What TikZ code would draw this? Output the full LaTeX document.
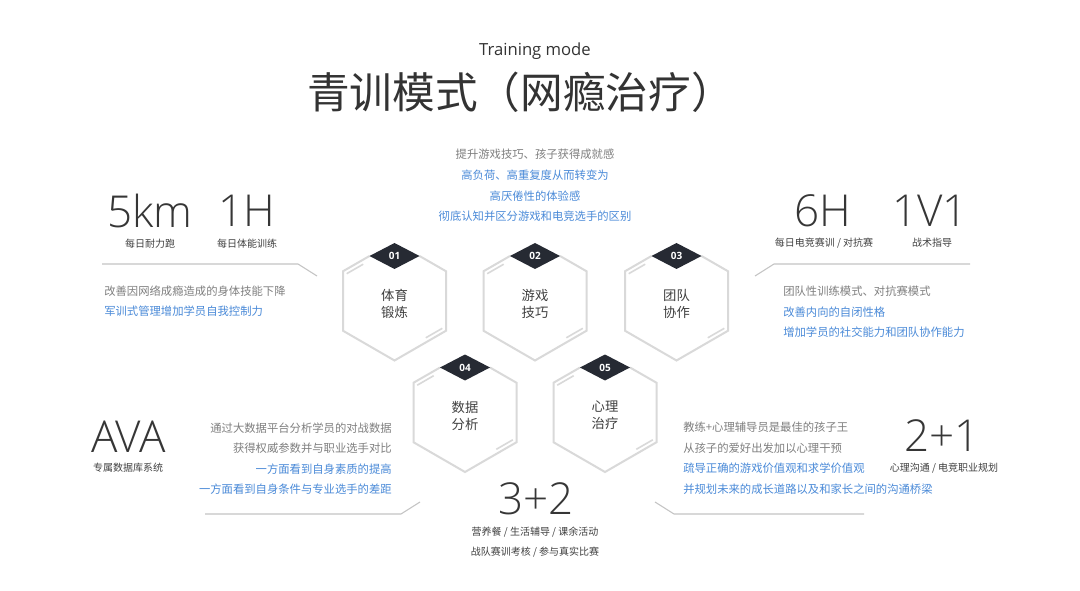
\documentclass[tikz,border=0pt]{standalone}
\usepackage{fontspec}
\setmainfont{Noto Sans CJK SC}
\newfontfamily\latinfont{Open Sans}
\newfontfamily\thinfont{Open Sans Light}
\usetikzlibrary{calc}
\definecolor{TitleGray}{HTML}{333333}
\definecolor{NumDark}{HTML}{363636}
\definecolor{LabelDark}{HTML}{404040}
\definecolor{GrayText}{HTML}{7F7F7F}
\definecolor{BlueText}{HTML}{4A8AD8}
\definecolor{LineGray}{HTML}{C4C4C4}
\definecolor{HexGray}{HTML}{D9D9D9}
\definecolor{TagDark}{HTML}{262A33}

\begin{document}
\begin{tikzpicture}[x=0.75pt,y=-0.75pt,
    bignum/.style={font=\thinfont\fontsize{33}{33}\selectfont,text=NumDark,inner sep=0pt},
    sublabel/.style={font=\fontsize{7.5}{9}\selectfont,text=LabelDark,inner sep=0pt},
    bodytext/.style={font=\fontsize{8.5}{15.4}\selectfont,text=BlueText,inner sep=0pt},
    guide/.style={draw=LineGray,line width=0.8pt},
    hexline/.style={draw=HexGray,line width=1.5pt},
    hexaccent/.style={draw=HexGray,line width=1.2pt},
    tagbox/.style={fill=TagDark},
    hexlabel/.style={font=\fontsize{10}{12.75}\selectfont,text=LabelDark,align=center,inner sep=0pt}]
  \fill[white] (0,0) rectangle (1080,591);
  % title
  \node[font=\latinfont\fontsize{12.5}{14}\selectfont,text=TitleGray] (subtitle) at (535,51) {Training mode};
  \node[font=\fontsize{32}{36}\selectfont,text=TitleGray] (title) at (520.5,92) {青训模式（网瘾治疗）};
  % top centre text
  \node[bodytext,align=center] (toptxt) at (535,185.5)
    {\textcolor{GrayText}{提升游戏技巧、孩子获得成就感}\\高负荷、高重复度从而转变为\\高厌倦性的体验感\\彻底认知并区分游戏和电竞选手的区别};
  % hexagons
  \foreach \cx/\cy/\num/\ta/\tb in {394.5/301/01/体育/锻炼,535/301/02/游戏/技巧,676.5/301/03/团队/协作,
                                     465/412.5/04/数据/分析,605/412.5/05/心理/治疗}{
    \begin{scope}[shift={(\cx,\cy)}]
      \draw[hexline] (-25,-45) -- (-51.5,-29.75) -- (-51.5,29.75) -- (0,59.5)
        -- (51.5,29.75) -- (51.5,-29.75) -- (25,-45);
      \draw[hexaccent] (-47.8,-27.3) -- (-31.3,-36.8);
      \draw[hexaccent] (47.8,27.3) -- (31.3,36.8);
      \fill[tagbox] (-25,-45) -- (0,-58) -- (25,-45) -- (0,-32) -- cycle;
      \node[font=\latinfont\bfseries\fontsize{7.5}{8}\selectfont,text=white,inner sep=0pt] (tag\num) at (0,-45) {\num};
      \node[hexlabel] (hex\num) at (0,3) {\ta\\\tb};
    \end{scope}
  }
  % left top
  \node[bignum] (km) at (150,211) {5km};
  \node[bignum] (hour) at (247,211) {1H};
  \node[sublabel] (kmlab) at (150,244) {每日耐力跑};
  \node[sublabel] (hourlab) at (247,244) {每日体能训练};
  \draw[guide] (102,264) -- (298,264) -- (317,276);
  \node[bodytext,align=left,anchor=west] (ltxt) at (104,301)
    {\textcolor{GrayText}{改善因网络成瘾造成的身体技能下降}\\军训式管理增加学员自我控制力};
  % right top
  \node[bignum] (sixh) at (823,211) {6H};
  \node[bignum] (vs) at (930,211) {1V1};
  \node[sublabel] (sixhlab) at (824,243) {每日电竞赛训 / 对抗赛};
  \node[sublabel] (vslab) at (932,243) {战术指导};
  \draw[guide] (755,276) -- (774,264) -- (970,264);
  \node[bodytext,align=left,anchor=west] (rtxt) at (783,312)
    {\textcolor{GrayText}{团队性训练模式、对抗赛模式}\\改善内向的自闭性格\\增加学员的社交能力和团队协作能力};
  % bottom left
  \node[bignum] (ava) at (128.5,437) {AVA};
  \node[sublabel] (avalab) at (128,468) {专属数据库系统};
  \node[bodytext,align=right,anchor=east] (bltxt) at (392,458.5)
    {\textcolor{GrayText}{通过大数据平台分析学员的对战数据}\\\textcolor{GrayText}{获得权威参数并与职业选手对比}\\一方面看到自身素质的提高\\一方面看到自身条件与专业选手的差距};
  \draw[guide] (205,514) -- (401,514) -- (420,502);
  % bottom centre
  \node[bignum] (tp) at (536,499) {3+2};
  \node[sublabel] (tplab) at (535,532) {营养餐 / 生活辅导 / 课余活动};
  \node[sublabel] (tplabb) at (535,552) {战队赛训考核 / 参与真实比赛};
  % bottom right
  \node[bignum] (tpo) at (942,436) {2+1};
  \node[sublabel] (tpolab) at (944,468) {心理沟通 / 电竞职业规划};
  \node[bodytext,align=left,anchor=west] (brtxt) at (683,458)
    {\textcolor{GrayText}{教练+心理辅导员是最佳的孩子王}\\\textcolor{GrayText}{从孩子的爱好出发加以心理干预}\\疏导正确的游戏价值观和求学价值观\\并规划未来的成长道路以及和家长之间的沟通桥梁};
  \draw[guide] (655,502) -- (674,514) -- (864,514);
\end{tikzpicture}
\end{document}
